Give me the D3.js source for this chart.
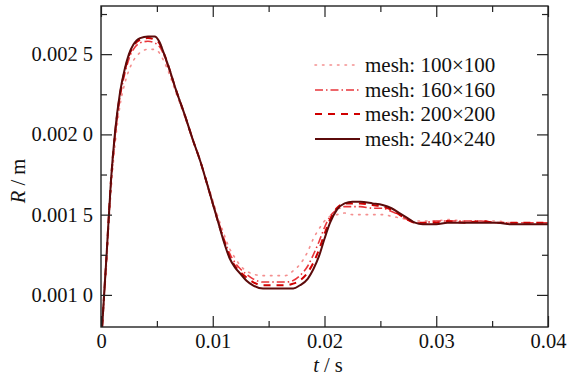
<!DOCTYPE html>
<html>
<head>
<meta charset="utf-8">
<script src="https://cdn.jsdelivr.net/npm/d3@7/dist/d3.min.js"></script>
<style>
  html, body { margin: 0; padding: 0; background: #fff; }
  svg { display: block; }
  text { font-family: "Liberation Serif", "Times New Roman", serif; fill: #111; }
</style>
</head>
<body>
<svg id="chart" width="569" height="378"></svg>
<script>
// ---- data ----
const times = [0.0001, 0.0005, 0.0009, 0.00125, 0.0017, 0.0021, 0.0025, 0.0029, 0.0035, 0.0042,
  0.0048, 0.0052, 0.0056, 0.0062, 0.0066, 0.0075, 0.0082, 0.0089, 0.0095, 0.0100,
  0.0105, 0.0110, 0.0115, 0.0120, 0.0125, 0.0130, 0.0136, 0.0145, 0.0155, 0.0165,
  0.0172, 0.0178, 0.0185, 0.0190, 0.0195, 0.0200, 0.0205, 0.0211, 0.0218, 0.0225,
  0.0232, 0.0243, 0.0252, 0.0260, 0.0267, 0.0274, 0.0281, 0.0288, 0.0300, 0.0310,
  0.0325, 0.0340, 0.0355, 0.0366, 0.0380, 0.0400];

const mesh100 = [0.00080, 0.00120, 0.00165, 0.00193, 0.00218, 0.00231, 0.00240, 0.00246, 0.00251, 0.00253,
  0.00253, 0.00251, 0.00246, 0.00236, 0.00228, 0.00211, 0.00197, 0.00183, 0.00170, 0.00159,
  0.00148, 0.00138, 0.00129, 0.00123, 0.00118, 0.00115, 0.00113, 0.00112, 0.00112, 0.00112,
  0.00115, 0.00119, 0.00127, 0.00135, 0.00141, 0.00146, 0.00149, 0.00150, 0.00151, 0.00150,
  0.00150, 0.00150, 0.00150, 0.00149, 0.00148, 0.00147, 0.00146, 0.00146, 0.00146, 0.00147,
  0.00146, 0.00146, 0.00146, 0.00145, 0.00145, 0.00145];

const mesh160 = [0.00080, 0.00124, 0.00170, 0.00198, 0.00223, 0.00237, 0.00247, 0.00253, 0.00257, 0.00258,
  0.00257, 0.00255, 0.00250, 0.00238, 0.00230, 0.00212, 0.00197, 0.00183, 0.00169, 0.00157,
  0.00146, 0.00135, 0.00126, 0.00120, 0.00116, 0.00113, 0.00110, 0.00108, 0.00108, 0.00108,
  0.00109, 0.00112, 0.00118, 0.00125, 0.00133, 0.00142, 0.00149, 0.00153, 0.00155, 0.00155,
  0.00155, 0.00154, 0.00154, 0.00152, 0.00150, 0.00147, 0.00145, 0.00145, 0.00146, 0.00146,
  0.00146, 0.00146, 0.00145, 0.00145, 0.00145, 0.00145];

const mesh200 = [0.00080, 0.00125, 0.00172, 0.00200, 0.00225, 0.00239, 0.00249, 0.00255, 0.00259, 0.00260,
  0.00259, 0.00257, 0.00251, 0.00239, 0.00230, 0.00212, 0.00197, 0.00183, 0.00169, 0.00157,
  0.00145, 0.00134, 0.00124, 0.00118, 0.00114, 0.00111, 0.00108, 0.00106, 0.00106, 0.00106,
  0.00107, 0.00109, 0.00114, 0.00120, 0.00128, 0.00138, 0.00147, 0.00154, 0.00157, 0.00157,
  0.00157, 0.00156, 0.00155, 0.00153, 0.00150, 0.00147, 0.00145, 0.00145, 0.00145, 0.00146,
  0.00145, 0.00146, 0.00145, 0.00145, 0.00145, 0.00145];

const mesh240 = [0.00080, 0.00125, 0.00172, 0.00201, 0.00226, 0.00240, 0.00250, 0.00256, 0.00260, 0.00261,
  0.00261, 0.00258, 0.00251, 0.00239, 0.00230, 0.00212, 0.00197, 0.00183, 0.00169, 0.00157,
  0.00145, 0.00133, 0.00123, 0.00117, 0.00113, 0.00109, 0.00106, 0.00104, 0.00104, 0.00104,
  0.00104, 0.00106, 0.00110, 0.00116, 0.00124, 0.00135, 0.00145, 0.00153, 0.00157, 0.00158,
  0.00158, 0.00157, 0.00156, 0.00154, 0.00151, 0.00148, 0.00145, 0.00144, 0.00144, 0.00145,
  0.00145, 0.00145, 0.00145, 0.00144, 0.00144, 0.00144];

const seriesNames = ["mesh: 100\u00d7100", "mesh: 160\u00d7160", "mesh: 200\u00d7200", "mesh: 240\u00d7240"];
const seriesValues = [mesh100, mesh160, mesh200, mesh240];

const xTicks = [0, 0.01, 0.02, 0.03, 0.04];
const xTickLabels = ["0", "0.01", "0.02", "0.03", "0.04"];
const xMinorTicks = [0.005, 0.015, 0.025, 0.035];
const yTicks = [0.0010, 0.0015, 0.0020, 0.0025];
const yTickLabels = ["0.001 0", "0.001 5", "0.002 0", "0.002 5"];
const yMinorTicks = [0.00125, 0.00175, 0.00225, 0.00275];

// ---- styles ----
const styles = [
  { color: "#f48f8f", width: 1.6, dash: "1.5,6" },
  { color: "#e8353a", width: 1.6, dash: "8,3,1.5,3" },
  { color: "#d00000", width: 2, dash: "7,6" },
  { color: "#5c0b0b", width: 2, dash: null }
];

const svg = d3.select("#chart");
const pL = 101, pR = 548, pT = 6, pB = 327;

const x = d3.scaleLinear().domain([0, 0.04]).range([pL, pR]);
const y = d3.scaleLinear().domain([0.0008, 0.0028]).range([pB, pT]);

svg.append("defs").append("clipPath").attr("id", "clip")
  .append("rect").attr("x", pL).attr("y", pT).attr("width", pR - pL).attr("height", pB - pT);

// curves
const line = d3.line()
  .x(d => x(d[0]))
  .y(d => y(d[1]))
  .curve(d3.curveMonotoneX);

const plot = svg.append("g").attr("clip-path", "url(#clip)");
seriesValues.forEach((vals, i) => {
  const pts = times.map((t, k) => [t, vals[k]]);
  const p = plot.append("path")
    .attr("d", line(pts))
    .attr("fill", "none")
    .attr("stroke", styles[i].color)
    .attr("stroke-width", styles[i].width)
    .attr("stroke-linecap", i === 0 ? "round" : "butt")
    .attr("stroke-linejoin", "round");
  if (styles[i].dash) p.attr("stroke-dasharray", styles[i].dash);
});

// axes
const fontSize = 20.5;
function styleAxis(g) {
  g.select(".domain").remove();
  g.selectAll(".tick line").attr("stroke", "#222").attr("stroke-width", 1.2);
  g.selectAll("text").attr("font-size", fontSize).attr("font-family", "'Liberation Serif', serif").attr("fill", "#111");
}

svg.append("g").attr("transform", `translate(0,${pB})`)
  .call(d3.axisBottom(x).tickValues(xTicks).tickSizeInner(-11).tickSizeOuter(0).tickPadding(6)
    .tickFormat((d, i) => xTickLabels[i]))
  .call(styleAxis);
svg.append("g").attr("transform", `translate(0,${pB})`)
  .call(d3.axisBottom(x).tickValues(xMinorTicks).tickSizeInner(-6).tickSizeOuter(0).tickFormat(""))
  .call(styleAxis);
svg.append("g").attr("transform", `translate(0,${pT})`)
  .call(d3.axisTop(x).tickValues(xTicks).tickSizeInner(-11).tickSizeOuter(0).tickFormat(""))
  .call(styleAxis);
svg.append("g").attr("transform", `translate(0,${pT})`)
  .call(d3.axisTop(x).tickValues(xMinorTicks).tickSizeInner(-6).tickSizeOuter(0).tickFormat(""))
  .call(styleAxis);
svg.append("g").attr("transform", `translate(${pL},0)`)
  .call(d3.axisLeft(y).tickValues(yTicks).tickSizeInner(-11).tickSizeOuter(0).tickPadding(8)
    .tickFormat((d, i) => yTickLabels[i]))
  .call(styleAxis);
svg.append("g").attr("transform", `translate(${pL},0)`)
  .call(d3.axisLeft(y).tickValues(yMinorTicks).tickSizeInner(-6).tickSizeOuter(0).tickFormat(""))
  .call(styleAxis);
svg.append("g").attr("transform", `translate(${pR},0)`)
  .call(d3.axisRight(y).tickValues(yTicks).tickSizeInner(-11).tickSizeOuter(0).tickFormat(""))
  .call(styleAxis);
svg.append("g").attr("transform", `translate(${pR},0)`)
  .call(d3.axisRight(y).tickValues(yMinorTicks).tickSizeInner(-6).tickSizeOuter(0).tickFormat(""))
  .call(styleAxis);

// frame
svg.append("rect")
  .attr("x", pL).attr("y", pT).attr("width", pR - pL).attr("height", pB - pT)
  .attr("fill", "none").attr("stroke", "#222").attr("stroke-width", 1.4);

// axis titles
const xt = svg.append("text")
  .attr("x", 328).attr("y", 372).attr("text-anchor", "middle").attr("font-size", fontSize);
xt.append("tspan").attr("font-style", "italic").text("t");
xt.append("tspan").text(" / s");

const yt = svg.append("text")
  .attr("transform", "translate(25,181) rotate(-90)").attr("text-anchor", "middle").attr("font-size", fontSize);
yt.append("tspan").attr("font-style", "italic").text("R");
yt.append("tspan").text(" / m");

// legend
const legendY = [65, 90, 114, 139];
const lg = svg.append("g");
seriesNames.forEach((name, i) => {
  const l = lg.append("line")
    .attr("x1", 315).attr("x2", 360).attr("y1", legendY[i]).attr("y2", legendY[i])
    .attr("stroke", styles[i].color).attr("stroke-width", styles[i].width)
    .attr("stroke-linecap", i === 0 ? "round" : "butt");
  if (styles[i].dash) l.attr("stroke-dasharray", styles[i].dash);
  lg.append("text").attr("x", 365).attr("y", legendY[i] + 7).attr("font-size", 21).text(name);
});
</script>
</body>
</html>
